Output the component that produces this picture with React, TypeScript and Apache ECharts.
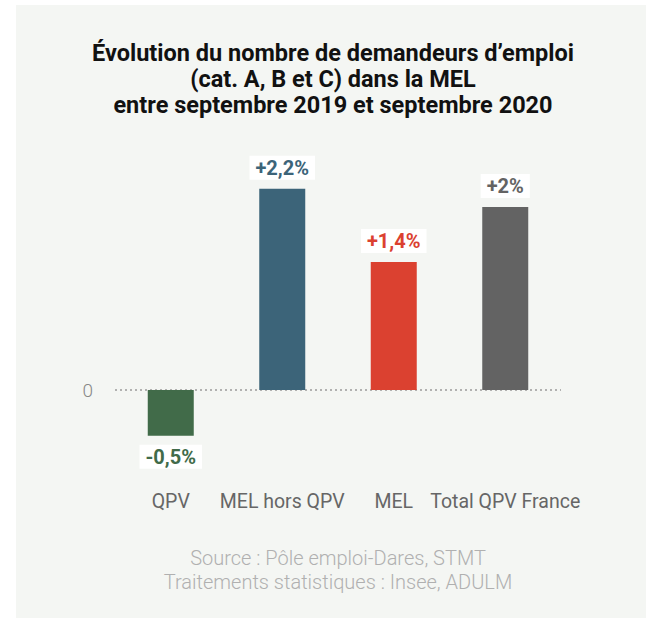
import React, { useEffect, useRef } from "react";
import * as echarts from "echarts";

const categories = ["QPV", "MEL hors QPV", "MEL", "Total QPV France"];
const values = [-0.5, 2.2, 1.4, 2.0];
const palette = ["#416b49", "#3c6479", "#db4130", "#636363"];
const titleLines = [
  "Évolution du nombre de demandeurs d’emploi",
  "(cat. A, B et C) dans la MEL",
  "entre septembre 2019 et septembre 2020",
];
const sourceLines = ["Source : Pôle emploi-Dares, STMT", "Traitements statistiques : Insee, ADULM"];

const fmt = (v: number) => (v > 0 ? "+" : "") + String(v).replace(".", ",") + "%";

export default function App() {
  const ref = useRef<HTMLDivElement>(null);
  useEffect(() => {
    if (!ref.current) return;
    const chart = echarts.init(ref.current, null, { renderer: "svg" });
    const font = "Roboto, 'Noto Sans', sans-serif";
    chart.setOption({
      animation: false,
      backgroundColor: "#ffffff",
      textStyle: { fontFamily: font },
      graphic: [
        {
          type: "rect",
          z: -10,
          silent: true,
          shape: { x: 16, y: 5, width: 640, height: 620 },
          style: { fill: "#f4f6f3" },
        },
        {
          type: "text",
          x: 333,
          y: 40,
          style: {
            text: titleLines.join("\n"),
            fontFamily: font,
            fontSize: 23.5,
            fontWeight: "bold",
            lineHeight: 26,
            fill: "#111111",
            align: "center",
            verticalAlign: "top",
          },
        },
        {
          type: "text",
          x: 338,
          y: 546,
          style: {
            text: sourceLines.join("\n"),
            fontFamily: font,
            fontSize: 20,
            fontWeight: 300,
            lineHeight: 24,
            fill: "#b0b0b0",
            align: "center",
            verticalAlign: "top",
          },
        },
      ],
      grid: { left: 115, top: 188.7, width: 446, height: 247.05, containLabel: false },
      xAxis: {
        type: "category",
        data: categories,
        axisLine: { show: false, onZero: false },
        axisTick: { show: false },
        axisLabel: { color: "#666666", fontSize: 19.5, margin: 56, interval: 0, fontFamily: font },
      },
      yAxis: {
        type: "value",
        min: -0.5,
        max: 2.2,
        interval: 0.5,
        splitLine: { show: false },
        axisLine: { show: false },
        axisTick: { show: false },
        axisLabel: {
          color: "#888888",
          fontSize: 19,
          margin: 22,
          fontWeight: 300,
          formatter: (v: number) => (v === 0 ? "0" : ""),
        },
      },
      series: [
        {
          type: "bar",
          barWidth: 46,
          data: values.map((v, i) => ({
            value: v,
            itemStyle: { color: palette[i] },
            label: {
              show: true,
              position: v < 0 ? "bottom" : "top",
              distance: 9,
              formatter: () => fmt(v),
              color: palette[i],
              fontSize: 20,
              lineHeight: 20,
              fontWeight: "bold",
              fontFamily: font,
              backgroundColor: "#ffffff",
              padding: [2, 6, 2, 6],
            },
          })),
          markLine: {
            silent: true,
            symbol: "none",
            label: { show: false },
            lineStyle: { color: "#9a9a9a", type: [2, 3], width: 1.5 },
            data: [{ yAxis: 0 }],
            z: 1,
          },
        },
      ],
    });
    return () => chart.dispose();
  }, []);
  return <div ref={ref} style={{ position: "fixed", left: 0, top: 0, width: 646, height: 618 }} />;
}
